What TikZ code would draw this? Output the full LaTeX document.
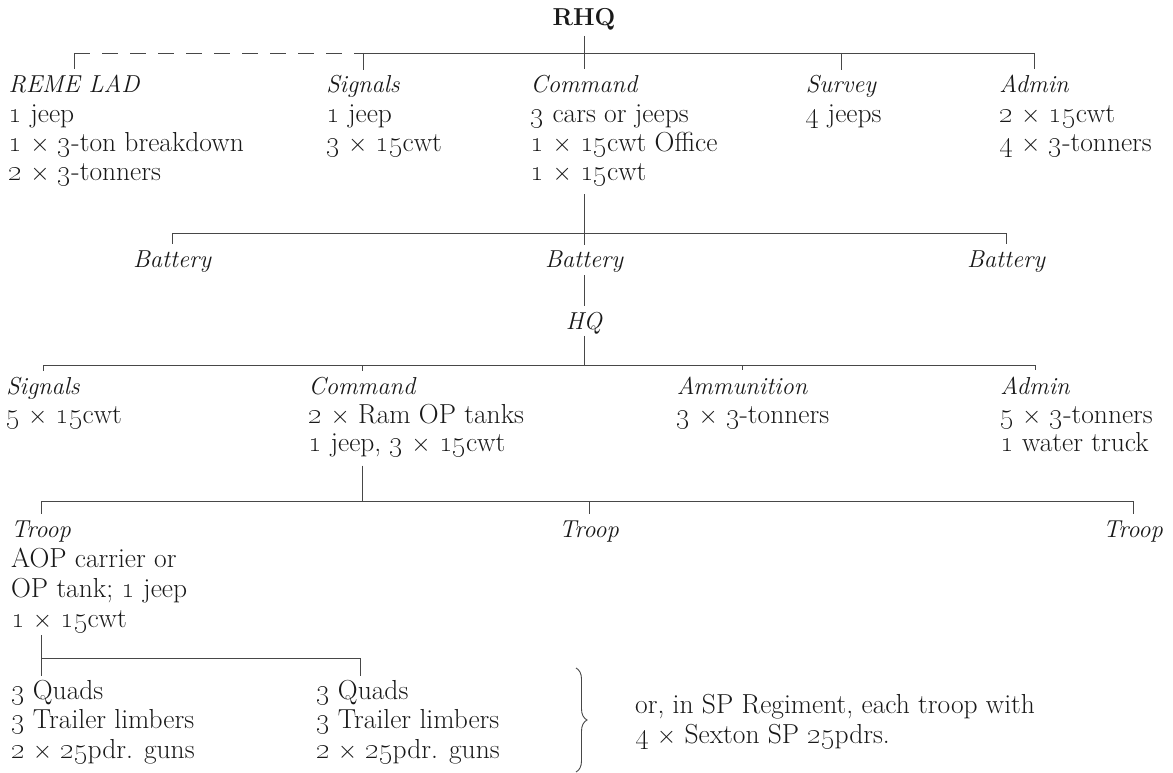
\documentclass[tikz,border=0pt]{standalone}
\usetikzlibrary{decorations.pathreplacing,calc}
\newcommand\osn[1]{\oldstylenums{#1}}
\newcommand\bsz[1]{\fontsize{27.5}{#1}\selectfont}
\newcommand\hsz{\fontsize{24.5}{28}\selectfont}
\colorlet{ink}{black!90}
\tikzset{
  hd/.style={font=\hsz\itshape, text=ink, inner sep=0pt, anchor=base},
  bd/.style={font=\bsz{#1}, text=ink, inner sep=0pt, align=left, anchor=north west},
  bd/.default=29,
  ln/.style={draw=black!72, line width=0.9pt},
  tk/.style={ln, shorten >=6pt},
  dashline/.style={ln, dash pattern=on 16pt off 12pt},
}
\begin{document}
\begin{tikzpicture}[x=1pt,y=-1pt]
\fill[white] (0,0) rectangle (1173,773);
\useasboundingbox (0,0) rectangle (1173,773);

% ---- RHQ
\node[font=\fontsize{24.5}{28}\selectfont\bfseries, text=ink, inner sep=0pt, anchor=base] (rhq) at (584,26) {RHQ};

% ---- row 1
\node[hd] (reme) at (74,93) {REME LAD};
\node[hd] (sigA) at (363,93) {Signals};
\node[hd] (cmdA) at (584,93) {Command};
\node[hd] (surv) at (841,93) {Survey};
\node[hd] (admA) at (1034,93) {Admin};

\node[bd] (remeB) at (reme.west |- 0,101.7) {\strut\osn{1} jeep\\\osn{1} $\times$ \osn{3}-ton breakdown\\\osn{2} $\times$ \osn{3}-tonners};
\node[bd] (sigAB) at (sigA.west |- 0,101.7) {\strut\osn{1} jeep\\\osn{3} $\times$ \osn{15}cwt};
\node[bd] (cmdAB) at (cmdA.west |- 0,101.7) {\strut\osn{3} cars or jeeps\\\osn{1} $\times$ \osn{15}cwt Office\\\osn{1} $\times$ \osn{15}cwt};
\node[bd] (survB) at (surv.west |- 0,101.7) {\strut\osn{4} jeeps};
\node[bd] (admAB) at (admA.west |- 0,101.7) {\strut\osn{2} $\times$ \osn{15}cwt\\\osn{4} $\times$ \osn{3}-tonners};

\coordinate (jr) at (reme.north |- 0,53);
\coordinate (js) at (sigA.north |- 0,53);
\coordinate (jc) at (cmdA.north |- 0,53);
\coordinate (jv) at (surv.north |- 0,53);
\coordinate (ja) at (admA.north |- 0,53);
\draw[dashline] (jr) -- (js);
\draw[ln] (js) -- (ja);
\draw[tk] (jr) -- (reme.north);
\draw[tk] (js) -- (sigA.north);
\draw[tk] (jv) -- (surv.north);
\draw[tk] (ja) -- (admA.north);
\draw[ln, shorten <=5pt, shorten >=7pt] (rhq.south) -- (cmdA.north);

% ---- batteries
\node[hd] (batA) at (172,267) {Battery};
\node[hd] (batB) at (584,267) {Battery};
\node[hd] (batC) at (1006,267) {Battery};
\coordinate (b1) at (batA.north |- 0,233);
\coordinate (b3) at (batC.north |- 0,233);
\draw[ln] (b1) -- (b3);
\draw[tk] (b1) -- (batA.north);
\draw[tk] (b3) -- (batC.north);
\draw[ln, shorten <=8pt, shorten >=5pt] (cmdA.north |- cmdAB.south) -- (batB.north);

% ---- HQ
\node[hd] (hq) at (584,329) {HQ};
\draw[ln, shorten <=3pt, shorten >=6pt] (batB.south) -- (hq.north);
\draw[ln, shorten <=2pt] (hq.south) -- (hq.south |- 0,365);

\node[hd] (sigB) at (43,394) {Signals};
\node[hd] (cmdB) at (362,394) {Command};
\node[hd] (ammo) at (742,394) {Ammunition};
\node[hd] (admB) at (1035,394) {Admin};
\node[bd=28.5] (sigBB) at (sigB.west |- 0,403.05) {\strut\osn{5} $\times$ \osn{15}cwt};
\node[bd=28.5] (cmdBB) at (cmdB.west |- 0,403.05) {\strut\osn{2} $\times$ Ram OP tanks\\\osn{1} jeep, \osn{3} $\times$ \osn{15}cwt};
\node[bd=28.5] (ammoB) at (ammo.west |- 0,403.05) {\strut\osn{3} $\times$ \osn{3}-tonners};
\node[bd=28.5] (admBB) at (admB.west |- 0,403.05) {\strut\osn{5} $\times$ \osn{3}-tonners\\\osn{1} water truck};

\coordinate (h1) at (sigB.north |- 0,365);
\coordinate (h2) at (cmdB.north |- 0,365);
\coordinate (h3) at (ammo.north |- 0,365);
\coordinate (h4) at (admB.north |- 0,365);
\draw[ln] (h1) -- (h4);
\draw[tk] (h1) -- (sigB.north);
\draw[tk] (h2) -- (cmdB.north);
\draw[tk] (h3) -- (ammo.north);
\draw[tk] (h4) -- (admB.north);

% ---- troops
\node[hd] (trpA) at (41,537) {Troop};
\node[hd] (trpB) at (589,537) {Troop};
\node[hd] (trpC) at (1133,537) {Troop};
\coordinate (t1) at (trpA.north |- 0,501);
\coordinate (t2) at (trpB.north |- 0,501);
\coordinate (t3) at (trpC.north |- 0,501);
\coordinate (tc) at (cmdB.north |- 0,501);
\draw[ln, shorten <=8pt] (cmdB.north |- cmdBB.south) -- (tc);
\draw[ln] (t1) -- (t3);
\draw[tk] (t1) -- (trpA.north);
\draw[tk] (t2) -- (trpB.north);
\draw[tk] (t3) -- (trpC.north);

\node[bd=30] (trpAB) at (trpA.west |- 0,546) {\strut AOP carrier or\\OP tank; \osn{1} jeep\\\osn{1} $\times$ \osn{15}cwt};

% ---- guns
\node[bd=29.5] (q1) at (trpA.west |- 0,678.35) {\strut\osn{3} Quads\\\osn{3} Trailer limbers\\\osn{2} $\times$ \osn{25}pdr. guns};
\node[bd=29.5] (q2) at (316,678.35) {\strut\osn{3} Quads\\\osn{3} Trailer limbers\\\osn{2} $\times$ \osn{25}pdr. guns};
\coordinate (sa) at (trpA.north |- 0,658);
\coordinate (sb) at (360,658);
\draw[ln, shorten <=2pt, shorten >=2pt] (trpA.north |- trpAB.south) -- (trpA.north |- q1.north);
\draw[ln] (sa) -- (sb);
\draw[ln, shorten >=2pt] (sb) -- (sb |- q2.north);

% ---- brace and note
\coordinate (bt) at (576,668);
\coordinate (bb) at (576,772);
\draw[ln, decorate, decoration={brace, amplitude=11pt}] (bt) -- (bb);
\node[bd=30] (sp) at (635,692) {\strut or, in SP Regiment, each troop with\\\osn{4} $\times$ Sexton SP \osn{25}pdrs.};
\end{tikzpicture}
\end{document}
